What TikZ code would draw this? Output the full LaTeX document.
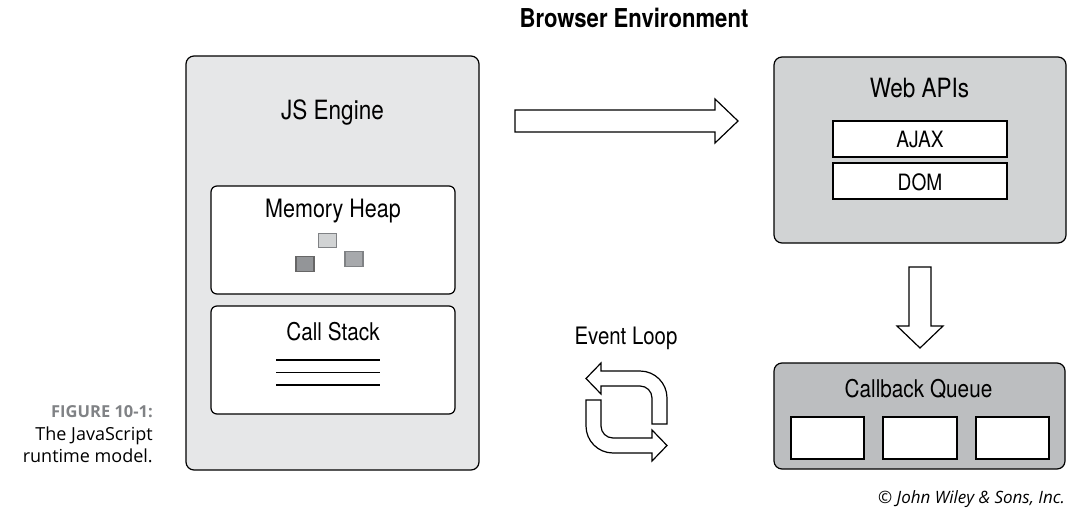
\documentclass[tikz,border=0pt]{standalone}
\usepackage{fontspec}
\newfontfamily\cond[FakeStretch=0.85]{TeX Gyre Heros}
\newfontfamily\osans{Open Sans}
\definecolor{enginefill}{HTML}{E6E7E8}
\definecolor{apifill}{HTML}{D1D3D4}
\definecolor{queuefill}{HTML}{BCBEC0}
\definecolor{capgray}{HTML}{808285}
\definecolor{sqlight}{HTML}{D1D3D4}
\definecolor{sqmid}{HTML}{A7A9AC}
\definecolor{sqdark}{HTML}{939598}
\tikzset{
  bigbox/.style={draw=black, line width=1.2pt, rounded corners=8pt, inner sep=0pt},
  innerbox/.style={draw=black, line width=1.2pt, rounded corners=6pt, fill=white, inner sep=0pt},
  flatbox/.style={draw=black, line width=1.2pt, fill=white, inner sep=0pt},
  lbl/.style={font=\cond, anchor=base, inner sep=0pt},
  sq/.style={line width=1.5pt, inner sep=0pt, minimum width=18pt, minimum height=14pt},
  hollow/.style={draw=black, line width=1.2pt, fill=white, line join=miter},
  stackline/.style={line width=1.2pt},
  capt/.style={font=\osans\fontsize{18}{21}\selectfont, anchor=base east, inner sep=0pt}
}
\begin{document}
\begin{tikzpicture}[x=1pt,y=-1pt]
\useasboundingbox (0,0) rectangle (1073,508);
% title
\node[lbl, font=\cond\bfseries\fontsize{26}{29}\selectfont] (title) at (634,28) {Browser Environment};
% JS engine
\node[bigbox, fill=enginefill, minimum width=293pt, minimum height=414pt] (engine) at (332.5,263) {};
\node[lbl, font=\cond\fontsize{26.5}{29}\selectfont] (enginelbl) at (332.5,120) {JS Engine};
\node[innerbox, minimum width=244pt, minimum height=108pt] (heap) at (333,240) {};
\node[lbl, font=\cond\fontsize{25.3}{28}\selectfont] (heaplbl) at (333,217) {Memory Heap};
\node[sq, draw=capgray, fill=sqlight] (sq1) at (327.5,240.5) {};
\node[sq, draw=black!60, fill=sqdark, minimum height=15pt] (sq2) at (305,264) {};
\node[sq, draw=capgray, fill=sqmid, minimum height=15pt] (sq3) at (354,259) {};
\node[innerbox, minimum width=244pt, minimum height=108pt] (stack) at (333,360) {};
\node[lbl, font=\cond\fontsize{24.4}{27}\selectfont] (stacklbl) at (333,340) {Call Stack};
\draw[stackline] (276,360) -- (380,360);
\draw[stackline] (276,372.5) -- (380,372.5);
\draw[stackline] (276,385) -- (380,385);
% arrow right
\draw[hollow] (515,110) -- (715,110) -- (715,99) -- (738,121) -- (715,143) -- (715,132) -- (515,132) -- cycle;
% Web APIs
\node[bigbox, fill=apifill, minimum width=292pt, minimum height=186pt] (apis) at (920,150) {};
\node[lbl, font=\cond\fontsize{26.5}{29}\selectfont] (apislbl) at (919.5,98) {Web APIs};
\node[flatbox, minimum width=174pt, minimum height=36pt] (ajax) at (920,139) {};
\node[lbl, font=\cond\fontsize{22.5}{25}\selectfont] (ajaxlbl) at (920,147) {AJAX};
\node[flatbox, minimum width=174pt, minimum height=36pt] (dom) at (920,181) {};
\node[lbl, font=\cond\fontsize{22.5}{25}\selectfont] (domlbl) at (920,190) {DOM};
% arrow down
\draw[hollow] (909,267) -- (931,267) -- (931,326) -- (943,326) -- (920,348) -- (897,326) -- (909,326) -- cycle;
% Callback queue
\node[bigbox, fill=queuefill, minimum width=291pt, minimum height=106pt] (queue) at (919.5,416) {};
\node[lbl, font=\cond\fontsize{24.4}{27}\selectfont] (queuelbl) at (918.5,397) {Callback Queue};
\node[flatbox, minimum width=73pt, minimum height=42pt] (q1) at (827.5,438) {};
\node[flatbox, minimum width=74pt, minimum height=42pt] (q2) at (920,438) {};
\node[flatbox, minimum width=73pt, minimum height=42pt] (q3) at (1012.5,438) {};
% Event loop
\node[lbl, font=\cond\fontsize{24}{27}\selectfont] (looplbl) at (626,344) {Event Loop};
\draw[hollow] (586,378.5) -- (601,363) -- (601,371) -- (640,371) arc(-90:0:27) -- (667,424) -- (652,424) -- (652,398) arc(0:-90:12) -- (601,386) -- (601,394) -- cycle;
\draw[hollow] (667,445.5) -- (652,461) -- (652,453) -- (613,453) arc(90:180:27) -- (586,400) -- (601,400) -- (601,426) arc(180:90:12) -- (652,438) -- (652,430) -- cycle;
% caption
\node[capt, font=\osans\bfseries\fontsize{16.5}{19}\selectfont, text=capgray] (figlbl) at (153,417) {FIGURE 10-1:};
\node[capt] (cap1) at (153,440) {The JavaScript};
\node[capt] (cap2) at (153,462) {runtime model.};
% copyright
\node[capt, font=\osans\itshape\fontsize{17}{20}\selectfont] (copy) at (1065,503) {\textcopyright{} John Wiley \& Sons, Inc.};
\end{tikzpicture}
\end{document}
